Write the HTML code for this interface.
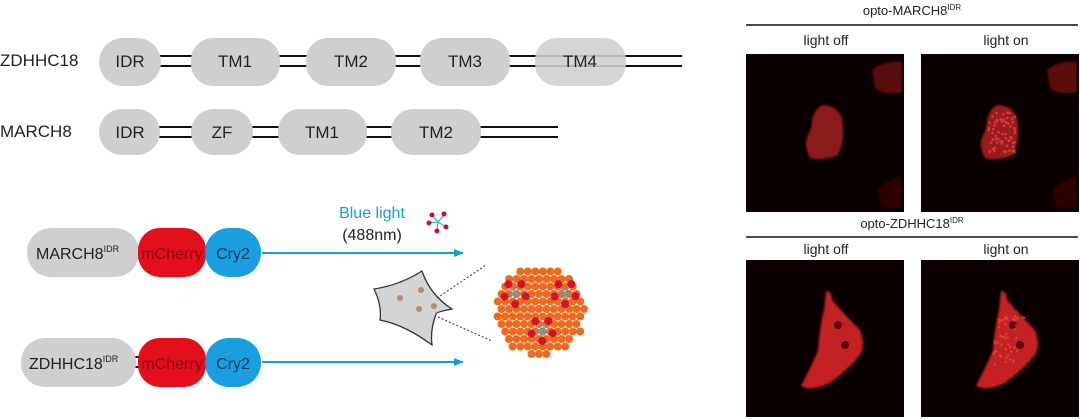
<!DOCTYPE html>
<html><head><meta charset="utf-8"><style>
html,body{margin:0;padding:0;background:#fff;}
svg{display:block;font-family:"Liberation Sans",Arial,sans-serif;}
</style></head><body>
<svg id="s" width="1080" height="419" viewBox="0 0 1080 419" xmlns="http://www.w3.org/2000/svg">
<defs>
<filter id="bl" x="-20%" y="-20%" width="140%" height="140%"><feGaussianBlur stdDeviation="1"/></filter>
<marker id="ar" markerWidth="10" markerHeight="8" refX="9" refY="4" orient="auto" markerUnits="userSpaceOnUse"><path d="M0,0 L10,4 L0,8 z" fill="#1a9ad6"/></marker>
</defs>
<g fill="#222" font-size="17">
<text x="0" y="66">ZDHHC18</text>
<text x="0" y="137">MARCH8</text>
</g>
<g stroke="#111" stroke-width="2">
<line x1="120" y1="56" x2="682" y2="56"/><line x1="120" y1="66" x2="682" y2="66"/>
<line x1="120" y1="127" x2="558" y2="127"/><line x1="120" y1="137" x2="558" y2="137"/>
</g>
<g fill="#cfcfcf">
<rect x="99" y="38" width="62" height="48" rx="24"/>
<rect x="191" y="38" width="89" height="48" rx="22"/>
<rect x="306" y="38" width="90" height="48" rx="22"/>
<rect x="420" y="38" width="90" height="48" rx="22"/>
<rect x="535" y="38" width="91" height="48" rx="22" opacity="0.88"/>
<rect x="99" y="109" width="61" height="46" rx="23"/>
<rect x="191" y="109" width="62" height="46" rx="23"/>
<rect x="278" y="109" width="89" height="46" rx="22"/>
<rect x="391" y="109" width="90" height="46" rx="22"/>
</g>
<g fill="#222" font-size="17" text-anchor="middle">
<text x="130" y="67">IDR</text><text x="235" y="67">TM1</text><text x="351" y="67">TM2</text><text x="465" y="67">TM3</text><text x="580" y="67">TM4</text>
<text x="130" y="138">IDR</text><text x="222" y="138">ZF</text><text x="322" y="138">TM1</text><text x="436" y="138">TM2</text>
</g>
<g stroke="#111" stroke-width="2">
<line x1="120" y1="248" x2="150" y2="248"/><line x1="120" y1="258" x2="150" y2="258"/>
<line x1="120" y1="357" x2="150" y2="357"/><line x1="120" y1="367" x2="150" y2="367"/>
</g>
<rect x="27" y="228" width="112" height="49" rx="24" fill="#cfcfcf"/>
<rect x="21" y="338" width="115" height="49" rx="24" fill="#cfcfcf"/>
<rect x="138" y="228" width="68" height="49" rx="22" fill="#e3101b"/>
<rect x="138" y="338" width="68" height="49" rx="22" fill="#e3101b"/>
<rect x="205" y="228" width="56" height="49" rx="24" fill="#1a9ee0"/>
<rect x="205" y="338" width="56" height="49" rx="24" fill="#1a9ee0"/>
<g font-size="16" fill="#222">
<text x="36" y="259">MARCH8<tspan font-size="9" dy="-7">IDR</tspan></text>
<text x="29" y="369">ZDHHC18<tspan font-size="9" dy="-7">IDR</tspan></text>
</g>
<g font-size="16" text-anchor="middle">
<text x="172" y="259" fill="#8a0a10">mCherry</text><text x="172" y="369" fill="#8a0a10">mCherry</text>
<text x="233" y="259" fill="#0d3a5a">Cry2</text><text x="233" y="369" fill="#0d3a5a">Cry2</text>
</g>
<g stroke="#1a9ad6" stroke-width="2">
<line x1="262" y1="253" x2="463" y2="253" marker-end="url(#ar)"/>
<line x1="262" y1="362" x2="463" y2="362" marker-end="url(#ar)"/>
</g>
<text x="372" y="218" font-size="16" fill="#1a9ad6" text-anchor="middle">Blue light</text>
<text x="372" y="240" font-size="16" fill="#222" text-anchor="middle">(488nm)</text>
<g stroke="#3ab0d8" stroke-width="1.2"><line x1="438" y1="222" x2="432" y2="215"/><line x1="438" y1="222" x2="444" y2="215"/><line x1="438" y1="222" x2="429" y2="223"/><line x1="438" y1="222" x2="446" y2="227"/><line x1="438" y1="222" x2="437" y2="230"/></g>
<g fill="#c8102e"><circle cx="432" cy="215" r="2.5"/><circle cx="444" cy="214" r="2.5"/><circle cx="429" cy="223" r="2.5"/><circle cx="446" cy="227" r="2.5"/><circle cx="437" cy="231" r="2.5"/></g>
<path d="M374,289 Q400,285 422,271 Q430,295 452,309 Q436,312 436,314 Q430,330 432,345 Q405,325 380,320 Q382,305 374,289 Z" fill="#d4d4d4" stroke="#333" stroke-width="1.3"/>
<g fill="#b98a6a"><circle cx="400" cy="298" r="3"/><circle cx="421" cy="290" r="3"/><circle cx="419" cy="309" r="3"/><circle cx="434" cy="306" r="3"/></g>
<g stroke="#333" stroke-width="1" stroke-dasharray="2,2"><line x1="437" y1="298" x2="486" y2="265"/><line x1="438" y1="317" x2="492" y2="341"/></g>
<g id="drop"></g>
<text x="912" y="15" font-size="13" fill="#222" text-anchor="middle">opto-MARCH8<tspan font-size="8" dy="-5">IDR</tspan></text>
<line x1="746" y1="25" x2="1078" y2="25" stroke="#111" stroke-width="1.5"/>
<text x="826" y="45" font-size="14" fill="#222" text-anchor="middle">light off</text>
<text x="1006" y="45" font-size="14" fill="#222" text-anchor="middle">light on</text>
<text x="912" y="228" font-size="13" fill="#222" text-anchor="middle">opto-ZDHHC18<tspan font-size="8" dy="-5">IDR</tspan></text>
<line x1="746" y1="237" x2="1078" y2="237" stroke="#111" stroke-width="1.5"/>
<text x="826" y="254" font-size="14" fill="#222" text-anchor="middle">light off</text>
<text x="1006" y="254" font-size="14" fill="#222" text-anchor="middle">light on</text>
<rect x="746" y="54" width="158" height="158" fill="#0a0000"/>
<rect x="921" y="54" width="158" height="158" fill="#0a0000"/>
<rect x="746" y="260" width="158" height="157" fill="#0a0000"/>
<rect x="921" y="260" width="158" height="157" fill="#0a0000"/>
<g filter="url(#bl)">
<path d="M823,105 Q838,106 842,118 Q846,140 838,155 Q822,162 810,158 Q803,145 808,135 Q812,128 812,120 Q815,108 823,105Z" fill="#8a1a1a"/>
<path d="M872,70 Q885,60 902,62 L902,92 Q885,96 875,88 Z" fill="#5a1010"/>
<path d="M877,190 Q895,175 902,178 L902,208 L882,208 Z" fill="#2e0606"/>
<path d="M998,105 Q1013,106 1017,118 Q1021,140 1013,155 Q997,162 985,158 Q978,145 983,135 Q987,128 987,120 Q990,108 998,105Z" fill="#9a1e1e"/>
<path d="M1047,70 Q1060,60 1077,62 L1077,92 Q1060,96 1050,88 Z" fill="#5a1010"/>
<path d="M1052,190 Q1070,175 1077,178 L1077,208 L1057,208 Z" fill="#2e0606"/>
<path d="M826,291 Q832,291 832,300 Q845,315 860,330 Q866,345 860,355 Q848,370 830,383 Q812,392 801,386 Q812,365 818,350 Q820,325 824,310 Z" fill="#c42020"/>
<path d="M1001,291 Q1007,291 1007,300 Q1020,315 1035,330 Q1041,345 1035,355 Q1023,370 1005,383 Q987,392 976,386 Q987,365 993,350 Q995,325 999,310 Z" fill="#c42020"/>
</g>
<g fill="#5a0808"><circle cx="838" cy="325" r="4"/><circle cx="845" cy="345" r="4"/><circle cx="1013" cy="325" r="4"/><circle cx="1020" cy="345" r="4"/></g>
<g fill="#ff5050" opacity="0.6" id="speck"></g>
</svg>
<script>
var d=document.getElementById('drop'),h='';
var cx=540,cy=310,R=46;
for(var y=cy-R;y<=cy+R;y+=7.5){for(var x=cx-R;x<=cx+R;x+=7.5){var ox=((Math.round((y-cy)/7.5))%2)*3.7;var px=x+ox,dx=px-cx,dy=y-cy;if(dx*dx+dy*dy<=R*R){h+='<circle cx="'+px+'" cy="'+y+'" r="4" fill="#ee6a1e"/>';}}}
var hubs=[[515,293],[565,293],[542,330]];
hubs.forEach(function(p){for(var k=0;k<5;k++){var a=k*1.2566+0.3,qx=p[0]+11*Math.cos(a),qy=p[1]+11*Math.sin(a);h+='<line x1="'+p[0]+'" y1="'+p[1]+'" x2="'+qx+'" y2="'+qy+'" stroke="#3ab0d8" stroke-width="1.2"/>';h+='<circle cx="'+qx+'" cy="'+qy+'" r="4" fill="#d5102a"/>';}});
d.innerHTML=h;
var s=document.getElementById('speck'),g='';
var seed=3;function r(){seed=(seed*9301+49297)%233280;return seed/233280;}
for(var j=0;j<60;j++){var a=r(),b=r();var x=988+a*28,y=112+b*42;g+='<circle cx="'+x+'" cy="'+y+'" r="1.3"/>';}
for(var j=0;j<50;j++){var a=r(),b=r();var y=315+b*50;var x=1000+a*25-(y-315)*0.2;g+='<circle cx="'+x+'" cy="'+y+'" r="1.2"/>';}
s.innerHTML=g;
</script>
</body></html>
